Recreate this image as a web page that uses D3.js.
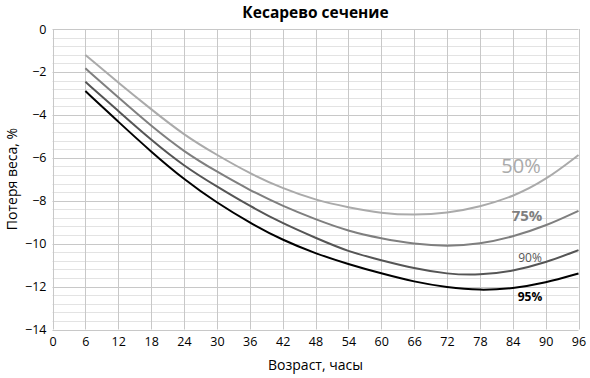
<!DOCTYPE html>
<html><head><meta charset="utf-8">
<script src="https://cdn.jsdelivr.net/npm/d3@7"></script>
<style>body{margin:0;background:#fff;}svg{display:block;font-family:"Open Sans",sans-serif;}</style>
</head><body><svg id="c" width="590" height="378"></svg>
<script>
const title = "Кесарево сечение";
const xLabel = "Возраст, часы";
const yLabel = "Потеря веса, %";
const hours = [6,12,18,24,30,36,42,48,54,60,66,72,78,84,90,96];
const p50 = [-1.21,-2.5,-3.74,-4.94,-5.87,-6.73,-7.43,-7.97,-8.31,-8.59,-8.67,-8.59,-8.28,-7.82,-7.04,-5.87];
const p75 = [-1.83,-3.19,-4.52,-5.72,-6.65,-7.51,-8.25,-8.87,-9.42,-9.76,-10.02,-10.13,-10.02,-9.68,-9.18,-8.47];
const p90 = [-2.46,-3.82,-5.17,-6.39,-7.34,-8.25,-9.06,-9.73,-10.38,-10.77,-11.16,-11.42,-11.47,-11.28,-10.89,-10.3];
const p95 = [-2.89,-4.32,-5.72,-7.01,-8.1,-9.03,-9.84,-10.46,-10.96,-11.39,-11.78,-12.04,-12.18,-12.09,-11.83,-11.39];
const seriesNames = ["50%","75%","90%","95%"];
const xTicks = d3.range(0,97,6);
const yTicks = [0,-2,-4,-6,-8,-10,-12,-14];

const svg = d3.select("#c");
const x = d3.scaleLinear().domain([0,96]).range([52.5,578.5]);
const y = d3.scaleLinear().domain([0,-14]).range([29,329.5]);
const fmt = v => v < 0 ? "\u2212" + Math.abs(v) : String(v);

const g = svg.append("g");
g.selectAll(".minor").data(d3.range(0,-14.01,-0.4).filter(v => Math.abs(v/2 - Math.round(v/2)) > 0.01))
  .join("line").attr("x1",x(0)).attr("x2",x(96))
  .attr("y1",d=>Math.round(y(d))+0.5).attr("y2",d=>Math.round(y(d))+0.5)
  .attr("stroke","#e3e3e3").attr("stroke-width",1);
g.selectAll(".hmaj").data(yTicks).join("line").attr("x1",x(0)).attr("x2",x(96))
  .attr("y1",d=>Math.round(y(d))+0.5).attr("y2",d=>Math.round(y(d))+0.5)
  .attr("stroke","#c8c8c8").attr("stroke-width",1);
g.selectAll(".vmaj").data(xTicks).join("line").attr("y1",y(0)).attr("y2",y(-14))
  .attr("x1",d=>Math.round(x(d))+0.5).attr("x2",d=>Math.round(x(d))+0.5)
  .attr("stroke","#c8c8c8").attr("stroke-width",1);

const xAxis = d3.axisBottom(x).tickValues(xTicks).tickSize(0).tickPadding(8).tickFormat(d=>d);
const ax = svg.append("g").attr("transform",`translate(0,${y(-14)})`).call(xAxis);
ax.select(".domain").remove();
ax.selectAll("text").attr("font-size",12.5).attr("fill","#000").attr("font-family","Open Sans");
const yAxis = d3.axisLeft(y).tickValues(yTicks).tickSize(0).tickPadding(6).tickFormat(fmt);
const ay = svg.append("g").attr("transform",`translate(${x(0)},0)`).call(yAxis);
ay.select(".domain").remove();
ay.selectAll("text").attr("font-size",12.5).attr("fill","#000").attr("font-family","Open Sans");

const line = d3.line().x((d,i)=>x(hours[i])).y(d=>y(d)).curve(d3.curveBasis);
const data = [p50,p75,p90,p95];
const colors = ["#aaaaaa","#7f7f7f","#555555","#000000"];
svg.selectAll(".ser").data(data).join("path").attr("d",line).attr("fill","none")
  .attr("stroke",(d,i)=>colors[i]).attr("stroke-width",2);

const lab = [
  {cx:521, cy:-6.45, size:20, w:400, c:"#aaaaaa"},
  {cx:527, cy:-8.75, size:15, w:700, c:"#7f7f7f"},
  {cx:530, cy:-10.7, size:12, w:400, c:"#555555"},
  {cx:530, cy:-12.5, size:12, w:700, c:"#000000"}
];
svg.selectAll(".lab").data(seriesNames).join("text")
  .attr("x",(d,i)=>lab[i].cx).attr("y",(d,i)=>y(lab[i].cy))
  .attr("text-anchor","middle").attr("dominant-baseline","middle")
  .attr("font-size",(d,i)=>lab[i].size).attr("font-weight",(d,i)=>lab[i].w)
  .attr("fill",(d,i)=>lab[i].c).text(d=>d);

svg.append("text").attr("x",315.5).attr("y",18).attr("text-anchor","middle")
  .attr("font-size",15.5).attr("font-weight",700).text(title);
svg.append("text").attr("x",315.5).attr("y",370).attr("text-anchor","middle")
  .attr("font-size",14).text(xLabel);
svg.append("text").attr("transform","translate(17,179) rotate(-90)").attr("text-anchor","middle")
  .attr("font-size",14).text(yLabel);
</script></body></html>
